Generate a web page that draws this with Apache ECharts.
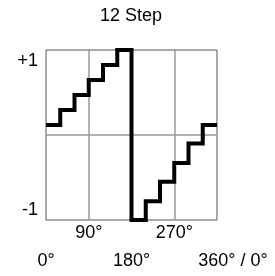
<!DOCTYPE html>
<html>
<head>
<meta charset="utf-8">
<script src="https://cdn.jsdelivr.net/npm/echarts@6/dist/echarts.min.js"></script>
<style>
  html, body { margin: 0; padding: 0; background: #fff; }
  #chart { width: 275px; height: 276px; }
</style>
</head>
<body>
<div id="chart"></div>
<script>
// --- data ---
const stepAngles = [0, 30, 60, 90, 120, 150, 180, 210, 240, 270, 300, 330, 360];
const stepLevels = [0.118, 0.294, 0.47, 0.647, 0.824, 1.0, -1.0, -0.78, -0.55, -0.33, -0.1, 0.118, 0.118];

const innerTickLabels = { 90: '90°', 270: '270°' };
const outerTickLabels = { 0: '0°', 180: '180°', 360: '360° / 0°' };
const yTickLabels = { 1: '+1', '-1': '-1' };

const FONT = 'Liberation Sans, Arial, sans-serif';
const FS = 18;
const GRID_COLOR = '#999';
const BORDER_COLOR = '#555';

const chart = echarts.init(document.getElementById('chart'));

const points = stepAngles.map((a, i) => [a, stepLevels[i]]);

chart.setOption({
  animation: false,
  title: {
    text: '12 Step',
    left: 100,
    top: 7,
    padding: 0,
    textStyle: { fontFamily: FONT, fontSize: FS, fontWeight: 'normal', color: '#000' }
  },
  grid: {
    left: 46, top: 50, width: 171, height: 170,
    show: true, borderColor: BORDER_COLOR, borderWidth: 1, backgroundColor: 'transparent'
  },
  xAxis: [
    {
      type: 'value', min: 0, max: 360, interval: 90, position: 'bottom',
      axisLine: { show: false },
      axisTick: { show: false },
      splitLine: { show: true, showMinLine: false, showMaxLine: false, lineStyle: { color: GRID_COLOR, width: 1.5 } },
      axisLabel: {
        margin: 4, color: '#000', fontFamily: FONT, fontSize: FS,
        formatter: v => innerTickLabels[v] || ''
      }
    },
    {
      type: 'value', min: 0, max: 360, interval: 90, position: 'bottom', offset: 28,
      axisLine: { show: false },
      axisTick: { show: false },
      splitLine: { show: false },
      axisLabel: {
        margin: 4, color: '#000', fontFamily: FONT, fontSize: FS, showMaxLabel: true, showMinLabel: true,
        formatter: v => v === 360 ? '{wide|' + outerTickLabels[v] + '}' : (outerTickLabels[v] || ''),
        rich: { wide: { fontFamily: FONT, fontSize: FS, color: '#000', padding: [0, 0, 0, 32] } }
      }
    }
  ],
  yAxis: {
    type: 'value', min: -1, max: 1, interval: 1,
    axisLine: { show: false },
    axisTick: { show: false },
    splitLine: { show: true, showMinLine: false, showMaxLine: false, lineStyle: { color: GRID_COLOR, width: 1.5 } },
    axisLabel: {
      margin: 8, color: '#000', fontFamily: FONT, fontSize: FS,
      formatter: v => v === 1 ? '{top|' + yTickLabels[1] + '}' : (v === -1 ? '{bot|' + yTickLabels['-1'] + '}' : ''),
      rich: {
        top: { fontFamily: FONT, fontSize: FS, color: '#000', padding: [22, 0, 0, 0] },
        bot: { fontFamily: FONT, fontSize: FS, color: '#000', padding: [0, 0, 20, 0] }
      }
    }
  },
  series: [{
    type: 'line',
    step: 'end',
    data: points,
    xAxisIndex: 0,
    symbol: 'none',
    clip: false,
    lineStyle: { color: '#000', width: 4, cap: 'butt', join: 'miter' }
  }]
});
</script>
</body>
</html>
